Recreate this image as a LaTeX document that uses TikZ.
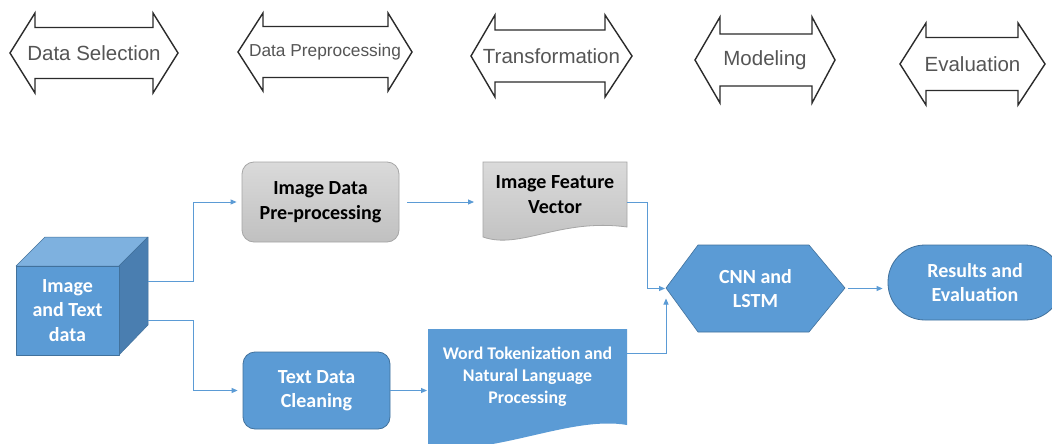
\documentclass[tikz,border=0pt]{standalone}
\usepackage{fontspec}
\setmainfont{Carlito}
\newfontfamily\phasefont{Liberation Sans}
\usetikzlibrary{arrows.meta,calc}
\definecolor{bluefill}{HTML}{5B9BD5}
\definecolor{blueline}{HTML}{41719C}
\definecolor{bluetop}{HTML}{7EB1DF}
\definecolor{blueside}{HTML}{4A7EB0}
\definecolor{grayline}{HTML}{A6A6A6}
\definecolor{graytop}{HTML}{DADADA}
\definecolor{graybot}{HTML}{C0C0C0}
\definecolor{phasetxt}{HTML}{555555}
\definecolor{phaseline}{HTML}{2B2B2B}
\definecolor{flowc}{HTML}{5B9BD5}
% #1 name, #2 left tip x, #3 left head base x, #4 right head base x, #5 right tip x,
% #6 centre y, #7 head half height, #8 shaft half height, #9 text
\newcommand\PhaseArrow[9]{%
  \draw[phase] (#2,#6) -- (#3,#6-#7) -- (#3,#6-#8) -- (#4,#6-#8) -- (#4,#6-#7) -- (#5,#6)
     -- (#4,#6+#7) -- (#4,#6+#8) -- (#3,#6+#8) -- (#3,#6+#7) -- cycle;
  \node[phasetext] (#1) at ({(#2+#5)/2},#6) {#9};}
\begin{document}
\begin{tikzpicture}[x=1pt,y=-1pt,
  phase/.style={draw=phaseline, line width=1.4pt, fill=white, line join=miter},
  phasetext/.style={font=\phasefont\fontsize{20.5}{24}\selectfont, text=phasetxt, inner sep=0pt},
  boxtext/.style={font=\bfseries\fontsize{20}{24.5}\selectfont, align=center},
  ghost/.style={inner sep=0pt, outer sep=0pt, draw=none},
  graybox/.style={boxtext, rectangle, rounded corners=12pt, draw=grayline, line width=0.8pt,
     top color=graytop, bottom color=graybot, text=black},
  bluebox/.style={boxtext, rectangle, rounded corners=12pt, draw=blueline, line width=0.8pt,
     fill=bluefill, text=white},
  face/.style={draw=blueline, line width=0.5pt, line join=round},
  flow/.style={draw=flowc, line width=0.9pt, -{Triangle[length=6pt,width=5pt]}, shorten >=3pt},
]
\fill[white] (0,0) rectangle (1052,444);
\clip (0,0) rectangle (1052,444);

% phase arrows
\PhaseArrow{ph1}{10}{35}{153}{178}{53}{40}{25.5}{Data Selection}
\PhaseArrow{ph2}{238}{263}{388}{412}{52}{39}{25.5}{\fontsize{17.3}{20}\selectfont Data Preprocessing}
\PhaseArrow{ph3}{471}{495}{605}{632}{56}{41}{26}{Transformation}
\PhaseArrow{ph4}{695}{720}{812}{835}{60}{43}{26}{Modeling}
\PhaseArrow{ph5}{900}{926}{1018}{1045}{64}{41}{26.5}{Evaluation}

% cube
\fill[bluetop, face] (16,266) -- (45,237) -- (148,237) -- (119,266) -- cycle;
\fill[blueside, face] (119,266) -- (148,237) -- (148,325) -- (119,355) -- cycle;
\fill[bluefill, face] (16,266) rectangle (119,355);
\node[ghost, minimum width=132pt, minimum height=118pt] (cubebox) at (82,296) {};
\node[boxtext, text=white] (data) at (67.5,310.5) {Image\\and Text\\data};

% boxes
\node[graybox, minimum width=157pt, minimum height=80pt] (idp) at (320.5,202) {Image Data\\Pre-processing};
\node[bluebox, minimum width=147pt, minimum height=77pt] (tdc) at (316.5,390.5) {Text Data\\Cleaning};

% image feature vector (document shape)
\path[draw=grayline, line width=0.8pt, top color=graytop, bottom color=graybot]
  (483,162) -- (627,162) -- (627,227) .. controls (560,218) and (520,250) .. (483,237) -- cycle;
\node[ghost, boxtext, text=black, minimum width=144pt, minimum height=65pt] (ifv) at (555,194.5) {Image Feature\\Vector};

% word tokenization (document shape)
\fill[bluefill] (428,329) -- (627,329) -- (627,425) .. controls (570,415) and (490,458) .. (428,446) -- cycle;
\node[ghost, boxtext, font=\bfseries\fontsize{17.8}{22}\selectfont, text=white, minimum width=199pt, minimum height=96pt] (word) at (527.5,377) {Word Tokenization and\\Natural Language\\Processing};

% CNN hexagon
\fill[bluefill, draw=blueline, line width=0.6pt] (666,288) -- (698,245) -- (809,245) -- (845,288) -- (809,332) -- (698,332) -- cycle;
\node[ghost, boxtext, text=white, minimum width=179pt, minimum height=87pt] (cnn) at (755.5,288.5) {CNN and\\LSTM};

% results
\node[bluebox, rounded corners=37pt, minimum width=174pt, minimum height=75pt] (res) at (975,282.5) {Results and\\Evaluation};

% connectors
\draw[flow, shorten >=5pt] ($(cubebox.east)+(0,-15)$) -- ++(45,0) |- (idp.west);
\draw[flow, shorten >=5pt] ($(cubebox.east)+(0,24)$) -- ++(45,0) |- (tdc.west);
\draw[flow, shorten <=8pt, shorten >=9pt] (idp.east) -- (idp.east -| ifv.west);
\draw[flow, shorten >=1pt] ($(ifv.east)+(0,7.5)$) -- ++(20,0) |- (cnn.west);
\draw[flow, shorten >=1pt] ($(word.east)+(0,-24)$) -| ($(cnn.west)+(0,9)$);
\draw[flow, shorten >=1pt] (tdc.east) -- (tdc.east -| word.west);
\draw[flow, shorten <=3pt, shorten >=5pt] (cnn.east) -- (cnn.east -| res.west);
\end{tikzpicture}
\end{document}
